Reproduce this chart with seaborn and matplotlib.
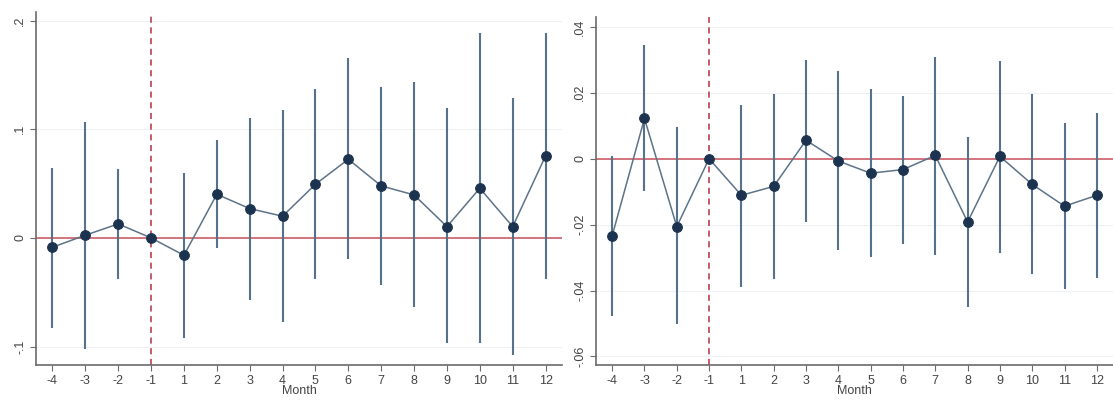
import matplotlib
matplotlib.use("Agg")
import matplotlib.pyplot as plt
import seaborn as sns
import numpy as np
import pandas as pd

months = ["-4", "-3", "-2", "-1", "1", "2", "3", "4", "5", "6", "7", "8", "9", "10", "11", "12"]

# Panel A: coefficients and 95% confidence bounds
coef_a = [-0.0086, 0.0025, 0.0129, 0.0, -0.016, 0.0402, 0.027, 0.020,
          0.0494, 0.0724, 0.0479, 0.0396, 0.0104, 0.0457, 0.0104, 0.0755]
upper_a = [0.0647, 0.1064, 0.0632, 0.0, 0.060, 0.090, 0.1107, 0.1175,
           0.1368, 0.1653, 0.1387, 0.1439, 0.1193, 0.1883, 0.1291, 0.189]
lower_a = [-0.0825, -0.1025, -0.038, 0.0, -0.0923, -0.0092, -0.057, -0.077,
           -0.038, -0.0196, -0.0433, -0.0638, -0.0969, -0.0969, -0.1077, -0.038]
yticks_a = [-0.1, 0.0, 0.1, 0.2]
yticklabels_a = ["-.1", "0", ".1", ".2"]

# Panel B: coefficients and 95% confidence bounds
coef_b = [-0.0234, 0.0122, -0.0206, 0.0, -0.0111, -0.0084, 0.0056, -0.0007,
          -0.0044, -0.0033, 0.0010, -0.0192, 0.0007, -0.0078, -0.0144, -0.0111]
upper_b = [0.0008, 0.0346, 0.0096, 0.0, 0.0162, 0.0197, 0.0301, 0.0266,
           0.0213, 0.0190, 0.0309, 0.0066, 0.0297, 0.0195, 0.0108, 0.0140]
lower_b = [-0.0476, -0.0099, -0.0503, 0.0, -0.0388, -0.0365, -0.0192, -0.0276,
           -0.0299, -0.0258, -0.0291, -0.0451, -0.0287, -0.0349, -0.0395, -0.0363]
yticks_b = [-0.06, -0.04, -0.02, 0.0, 0.02, 0.04]
yticklabels_b = ["-.06", "-.04", "-.02", "0", ".02", ".04"]

sns.set_theme(style="white")
plt.rcParams["font.family"] = ["Liberation Sans", "DejaVu Sans"]

ci_color = "#55718c"
line_color = "#5d7388"
marker_color = "#1c3350"
ref_color = "#c9505c"
event_color = "#b0303f"
axis_color = "#6b6b6b"
text_color = "#444444"

fig = plt.figure(figsize=(11.13, 4.05), dpi=100)
ax_a = fig.add_axes([36 / 1113, 40 / 405, (562 - 36) / 1113, (393 - 40) / 405])
ax_b = fig.add_axes([596 / 1113, 40 / 405, (1113 - 596) / 1113, (388 - 40) / 405])


def draw_panel(ax, coef, lower, upper, yticks, yticklabels, ylim):
    pos = np.arange(len(months))
    df = pd.DataFrame({"pos": pos, "coef": coef, "lower": lower, "upper": upper})
    for y in yticks:
        ax.axhline(y, color="#eef0f3", lw=0.8, zorder=0)
    ci = df[df["upper"] != df["lower"]]
    ax.vlines(ci["pos"], ci["lower"], ci["upper"], color=ci_color, lw=1.5, zorder=2)
    ax.axhline(0, color=ref_color, lw=1.1, zorder=1)
    ax.axvline(3, color=event_color, lw=1.1, ls=(0, (4, 3)), zorder=1)
    sns.lineplot(data=df, x="pos", y="coef", ax=ax, color=line_color, lw=1.1,
                 marker="o", markersize=7, markerfacecolor=marker_color,
                 markeredgecolor=marker_color, zorder=3)
    ax.set_xlim(-0.5, len(months) - 0.5)
    ax.set_ylim(*ylim)
    ax.set_xticks(pos)
    ax.set_xticklabels(months, fontsize=9, color=text_color)
    ax.set_yticks(yticks)
    ax.set_yticklabels(yticklabels, fontsize=9, color=text_color, rotation=90, va="center")
    ax.set_xlabel("Month", fontsize=9, color=text_color, labelpad=-1)
    ax.set_ylabel("")
    for side in ["top", "right"]:
        ax.spines[side].set_visible(False)
    for side in ["left", "bottom"]:
        ax.spines[side].set_color(axis_color)
        ax.spines[side].set_linewidth(1.2)
    ax.tick_params(axis="both", which="both", direction="out", length=4, width=0.8,
                   color=axis_color, pad=3, bottom=True, left=True)


draw_panel(ax_a, coef_a, lower_a, upper_a, yticks_a, yticklabels_a, (-0.117, 0.208))
draw_panel(ax_b, coef_b, lower_b, upper_b, yticks_b, yticklabels_b, (-0.0626, 0.043))

fig.savefig("out.png", dpi=100, facecolor="white")
